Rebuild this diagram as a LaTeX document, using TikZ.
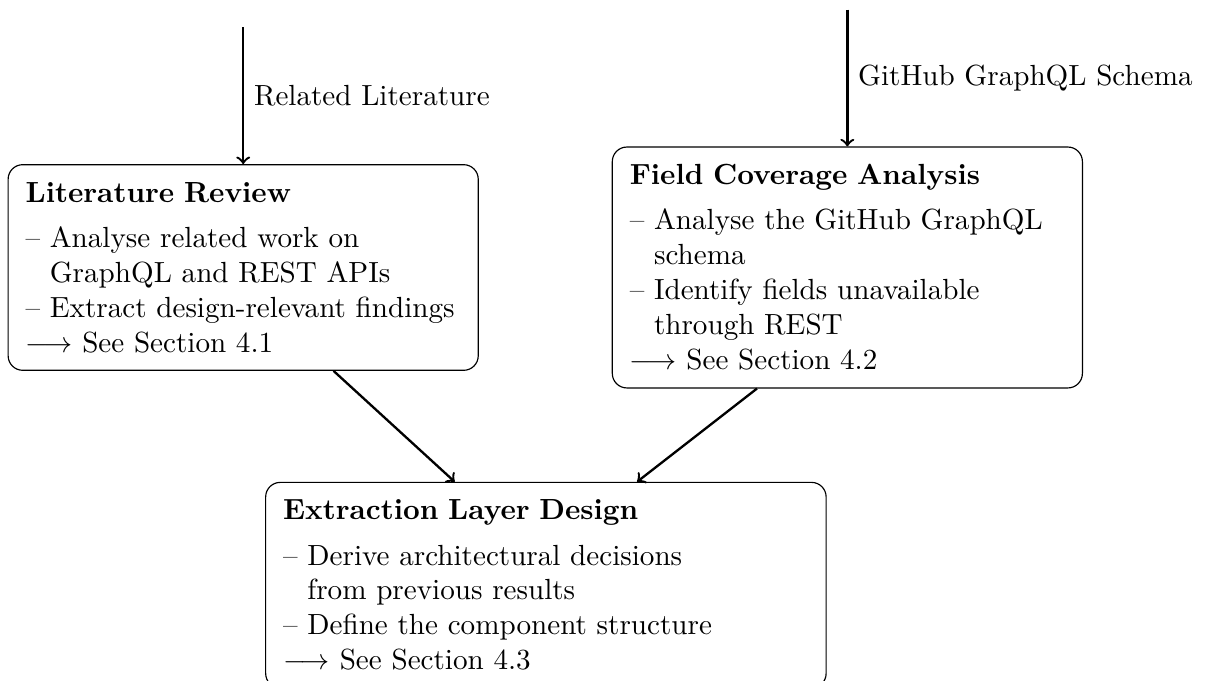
\documentclass[tikz,border=0pt]{standalone}

\tikzset{
  box/.style={draw, rounded corners=5pt, text width=5.25cm, inner sep=6pt, align=left},
  widebox/.style={box, text width=6.34cm},
}
\hyphenpenalty=10000
\newcommand{\dashitem}[1]{\par\hangindent=8.33pt\hangafter=1\noindent--\ #1}
\newcommand{\seesec}[1]{\par\noindent$\longrightarrow$ See Section #1}

\begin{document}
\begin{tikzpicture}
      \useasboundingbox (0,0) rectangle (14.55,-8.215);
      \draw
        (2.934,-3.227) node[box] (lit){\textbf{Literature Review}\par\vspace{3.5pt}
          \dashitem{Analyse related work on GraphQL and REST APIs}
          \dashitem{Extract design-relevant findings}
          \seesec{4.1}}
        (10.223,-3.227) node[box] (fca){\textbf{Field Coverage Analysis}\par\vspace{3.5pt}
          \dashitem{Analyse the GitHub GraphQL schema}
          \dashitem{Identify fields unavailable through REST}
          \seesec{4.2}}
        (6.586,-7.06) node[widebox] (design){\textbf{Extraction Layer Design}\par\vspace{3.5pt}
          \dashitem{Derive architectural decisions\newline from previous results}
          \dashitem{Define the component structure}
          \seesec{4.3}};
      \coordinate (litsrc) at ([yshift=1.65cm]lit.north);
      \coordinate (fcasrc) at ([yshift=1.65cm]fca.north);
      \coordinate (litout) at ([xshift=1.09cm]lit.south);
      \coordinate (fcaout) at ([xshift=-1.09cm]fca.south);
      \coordinate (designinl) at ([xshift=-1.1cm]design.north);
      \coordinate (designinr) at ([xshift=1.1cm]design.north);
      \begin{scope}[->, thick]
        \draw (litsrc) to node[midway, right]{Related Literature} (lit);
        \draw (fcasrc) to node[midway, right]{GitHub GraphQL Schema} (fca);
        \draw (litout) to (designinl);
        \draw (fcaout) to (designinr);
      \end{scope}
    \end{tikzpicture}
\end{document}
